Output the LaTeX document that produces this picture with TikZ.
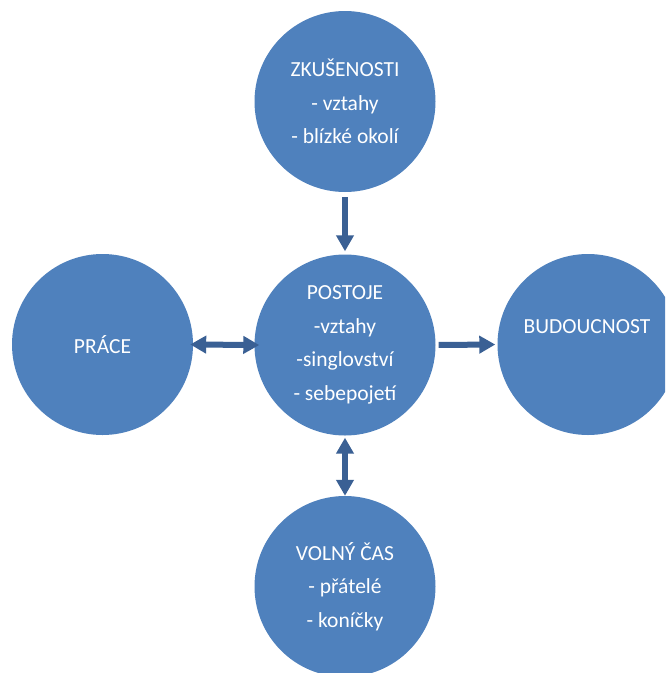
\documentclass[tikz,border=0pt]{standalone}
\usepackage{fontspec}
\setmainfont{Carlito}
\usetikzlibrary{arrows.meta}
\definecolor{circblue}{HTML}{4F81BD}
\definecolor{arrblue}{HTML}{3A6094}
\tikzset{
  circ/.style={circle, fill=circblue, draw=none, minimum size=181pt, inner sep=0pt,
    text=white, align=center, font=\fontsize{21.5}{33.5}\selectfont},
  txt/.style={text=white, align=center, font=\fontsize{21.5}{33.5}\selectfont, inner sep=0pt},
  conn/.style={arrblue, line width=6pt,
    arrows={-Triangle[width=17pt,length=16pt]}},
  conn2/.style={arrblue, line width=6pt,
    arrows={Triangle[width=17pt,length=16pt]-Triangle[width=17pt,length=16pt]}}
}
\begin{document}
\begin{tikzpicture}[x=1pt,y=-1pt]
\useasboundingbox (0,0) rectangle (665,673);
\clip (0,0) rectangle (665,673);
\fill[white] (0,0) rectangle (665,673);
\node[circ] (zk) at (345,101.5) {ZKUŠENOSTI\\- vztahy\\- blízké okolí};
\node[circ] (po) at (345,345) {POSTOJE\\-vztahy\\-singlovství\\- sebepojetí};
\node[circ] (pr) at (102.5,344.5) {PRÁCE};
\node[circ] (bu) at (588,344.5) {};
\node[txt] (butxt) at (587,327) {BUDOUCNOST};
\node[circ] (vo) at (345,586.5) {VOLNÝ ČAS\\- přátelé\\- koníčky};
\draw[conn, shorten <=5pt, shorten >=3pt] (zk) -- (po);
\draw[conn2, shorten <=-3pt, shorten >=-5pt] (pr.east) -- (po.west);
\draw[conn, shorten <=3pt, shorten >=2pt] (po.east) -- (bu.west);
\draw[conn2, shorten <=2pt, shorten >=0pt] (po.south) -- (vo.north);
\end{tikzpicture}
\end{document}
